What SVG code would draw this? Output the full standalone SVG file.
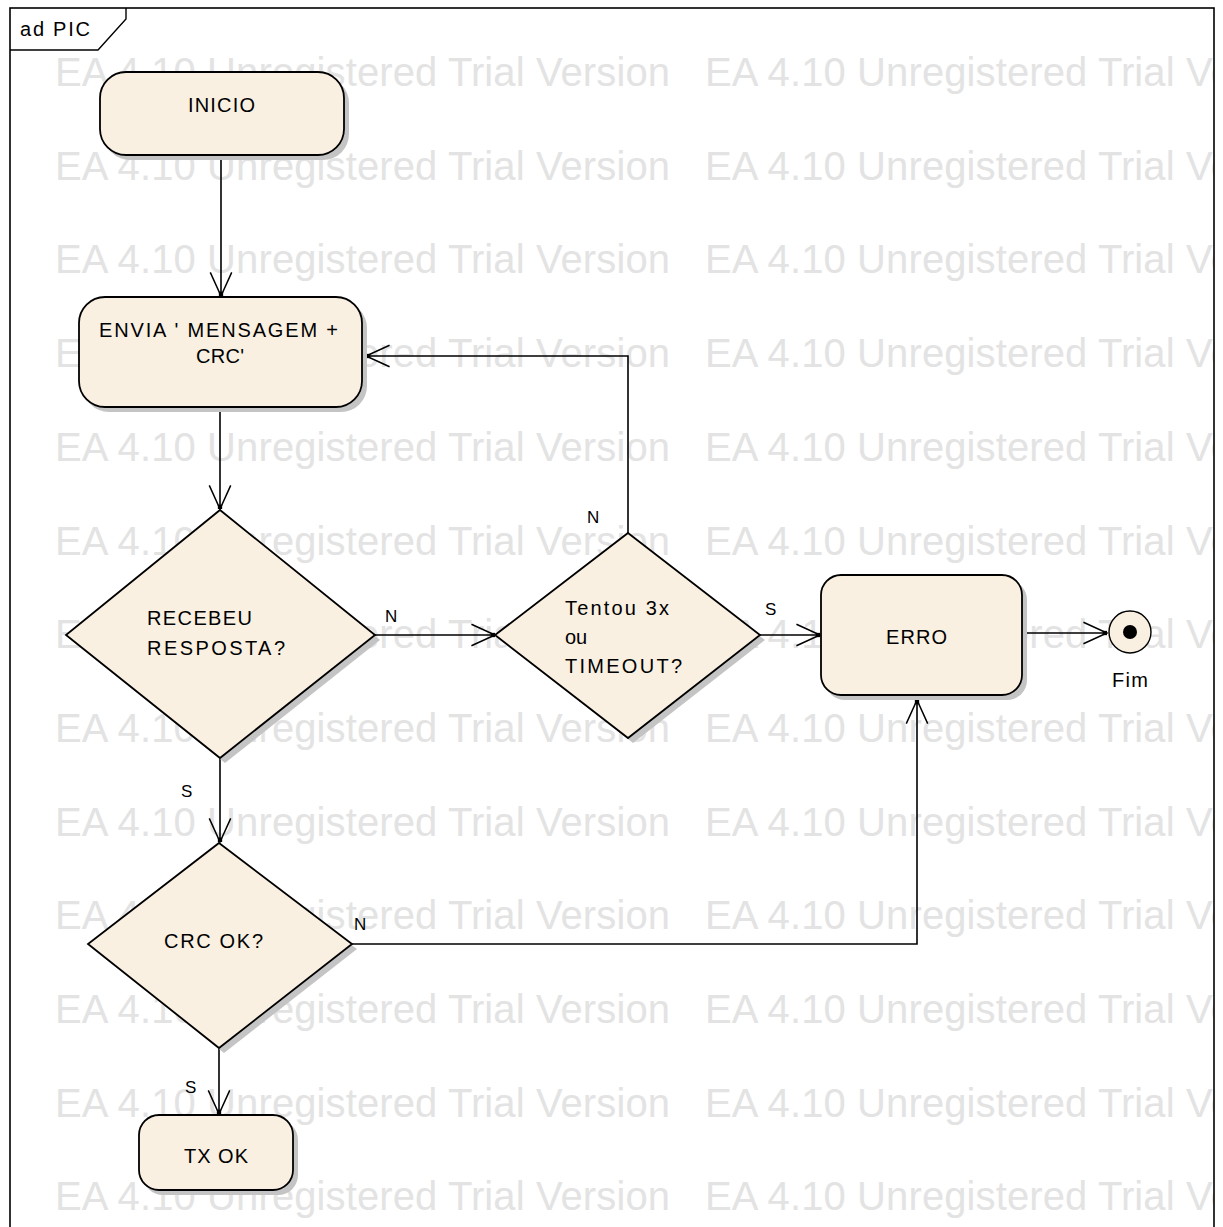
<svg xmlns="http://www.w3.org/2000/svg" width="1223" height="1227" viewBox="0 0 1223 1227">
<defs>
<style>
.wm{font-family:"Liberation Sans",Arial,sans-serif;font-size:40px;fill:#e3e3e3;}
.node{fill:#faf0e2;stroke:#000;stroke-width:1.8;}
.shadow{fill:#c4c4c4;stroke:none;}
.t{font-family:"Liberation Sans",Arial,sans-serif;font-size:20px;fill:#000;}
.lbl{font-family:"Liberation Sans",Arial,sans-serif;font-size:17px;fill:#000;}
.edge{fill:none;stroke:#000;stroke-width:1.6;}
</style>
<marker id="arr" markerUnits="userSpaceOnUse" markerWidth="30" markerHeight="30" viewBox="-25 -12 28 24" refX="0" refY="0" orient="auto">
<path d="M-22,-10 L0,0 L-22,10" fill="none" stroke="#000" stroke-width="1.4"/>
<rect x="-4" y="-2" width="4" height="4" fill="#000"/>
</marker>
<clipPath id="frameClip"><rect x="10" y="8" width="1204" height="1230"/></clipPath>
</defs>
<rect x="0" y="0" width="1223" height="1227" fill="#fff"/>
<g id="watermark" clip-path="url(#frameClip)">
<text class="wm" x="55" y="86" textLength="615">EA 4.10 Unregistered Trial Version</text><text class="wm" x="705" y="86" textLength="615">EA 4.10 Unregistered Trial Version</text>
<text class="wm" x="55" y="180" textLength="615">EA 4.10 Unregistered Trial Version</text><text class="wm" x="705" y="180" textLength="615">EA 4.10 Unregistered Trial Version</text>
<text class="wm" x="55" y="273" textLength="615">EA 4.10 Unregistered Trial Version</text><text class="wm" x="705" y="273" textLength="615">EA 4.10 Unregistered Trial Version</text>
<text class="wm" x="55" y="367" textLength="615">EA 4.10 Unregistered Trial Version</text><text class="wm" x="705" y="367" textLength="615">EA 4.10 Unregistered Trial Version</text>
<text class="wm" x="55" y="461" textLength="615">EA 4.10 Unregistered Trial Version</text><text class="wm" x="705" y="461" textLength="615">EA 4.10 Unregistered Trial Version</text>
<text class="wm" x="55" y="555" textLength="615">EA 4.10 Unregistered Trial Version</text><text class="wm" x="705" y="555" textLength="615">EA 4.10 Unregistered Trial Version</text>
<text class="wm" x="55" y="648" textLength="615">EA 4.10 Unregistered Trial Version</text><text class="wm" x="705" y="648" textLength="615">EA 4.10 Unregistered Trial Version</text>
<text class="wm" x="55" y="742" textLength="615">EA 4.10 Unregistered Trial Version</text><text class="wm" x="705" y="742" textLength="615">EA 4.10 Unregistered Trial Version</text>
<text class="wm" x="55" y="836" textLength="615">EA 4.10 Unregistered Trial Version</text><text class="wm" x="705" y="836" textLength="615">EA 4.10 Unregistered Trial Version</text>
<text class="wm" x="55" y="929" textLength="615">EA 4.10 Unregistered Trial Version</text><text class="wm" x="705" y="929" textLength="615">EA 4.10 Unregistered Trial Version</text>
<text class="wm" x="55" y="1023" textLength="615">EA 4.10 Unregistered Trial Version</text><text class="wm" x="705" y="1023" textLength="615">EA 4.10 Unregistered Trial Version</text>
<text class="wm" x="55" y="1117" textLength="615">EA 4.10 Unregistered Trial Version</text><text class="wm" x="705" y="1117" textLength="615">EA 4.10 Unregistered Trial Version</text>
<text class="wm" x="55" y="1210" textLength="615">EA 4.10 Unregistered Trial Version</text><text class="wm" x="705" y="1210" textLength="615">EA 4.10 Unregistered Trial Version</text>
</g>
<g id="frame">
<rect x="10" y="8" width="1204" height="1240" fill="none" stroke="#000" stroke-width="1.6"/>
<path d="M10,50 L98,50 L126,19 L126,8" fill="none" stroke="#000" stroke-width="1.4"/>
<text class="t" x="20" y="36" textLength="70">ad PIC</text>
</g>
<g id="connectors">
<line class="edge" x1="221" y1="155" x2="221" y2="296" marker-end="url(#arr)"/>
<line class="edge" x1="220" y1="407" x2="220" y2="509" marker-end="url(#arr)"/>
<line class="edge" x1="375" y1="635" x2="495" y2="635" marker-end="url(#arr)"/>
<polyline class="edge" points="628,533 628,356 366,356" marker-end="url(#arr)"/>
<line class="edge" x1="760" y1="635" x2="820" y2="635" marker-end="url(#arr)"/>
<line class="edge" x1="1022" y1="633" x2="1107" y2="633" marker-end="url(#arr)"/>
<line class="edge" x1="220" y1="758" x2="220" y2="842" marker-end="url(#arr)"/>
<polyline class="edge" points="352,944 917,944 917,700" marker-end="url(#arr)"/>
<line class="edge" x1="219" y1="1048" x2="219" y2="1114" marker-end="url(#arr)"/>
<text class="lbl" x="385" y="622">N</text>
<text class="lbl" x="587" y="523">N</text>
<text class="lbl" x="765" y="615">S</text>
<text class="lbl" x="181" y="797">S</text>
<text class="lbl" x="354" y="930">N</text>
<text class="lbl" x="185" y="1093">S</text>
</g>
<g id="inicio">
<rect class="shadow" x="104" y="77" width="245" height="83" rx="26"/>
<rect class="node" x="100" y="72" width="244" height="83" rx="26"/>
<text class="t" x="188" y="112" textLength="67">INICIO</text>
</g>
<g id="envia">
<rect class="shadow" x="83" y="302" width="284" height="110" rx="26"/>
<rect class="node" x="79" y="297" width="283" height="110" rx="26"/>
<text class="t" x="99" y="337" textLength="239">ENVIA ' MENSAGEM +</text>
<text class="t" x="196" y="363" textLength="48">CRC'</text>
</g>
<g id="recebeu">
<polygon class="shadow" points="225,515 380,640 225,763 71,640"/>
<polygon class="node" points="220,510 375,635 220,758 66,635"/>
<text class="t" x="147" y="625" textLength="105">RECEBEU</text>
<text class="t" x="147" y="655" textLength="138">RESPOSTA?</text>
</g>
<g id="tentou">
<polygon class="shadow" points="633,538 765,640 633,743 500,640"/>
<polygon class="node" points="628,533 760,635 628,738 495,635"/>
<text class="t" x="565" y="615" textLength="104">Tentou 3x</text>
<text class="t" x="565" y="644" textLength="22">ou</text>
<text class="t" x="565" y="673" textLength="117">TIMEOUT?</text>
</g>
<g id="erro">
<rect class="shadow" x="825" y="580" width="202" height="120" rx="20"/>
<rect class="node" x="821" y="575" width="201" height="120" rx="20"/>
<text class="t" x="886" y="644" textLength="61">ERRO</text>
</g>
<g id="fim">
<circle cx="1130" cy="632" r="21" fill="#faf0e2" stroke="#000" stroke-width="1.4"/>
<circle cx="1130" cy="632" r="7" fill="#000"/>
<text class="t" x="1112" y="687" textLength="36">Fim</text>
</g>
<g id="crcok">
<polygon class="shadow" points="224,848 357,949 224,1053 93,949"/>
<polygon class="node" points="219,843 352,944 219,1048 88,944"/>
<text class="t" x="164" y="948" textLength="99">CRC OK?</text>
</g>
<g id="txok">
<rect class="shadow" x="143" y="1120" width="155" height="75" rx="20"/>
<rect class="node" x="139" y="1115" width="154" height="75" rx="20"/>
<text class="t" x="184" y="1163" textLength="64">TX OK</text>
</g>
</svg>
